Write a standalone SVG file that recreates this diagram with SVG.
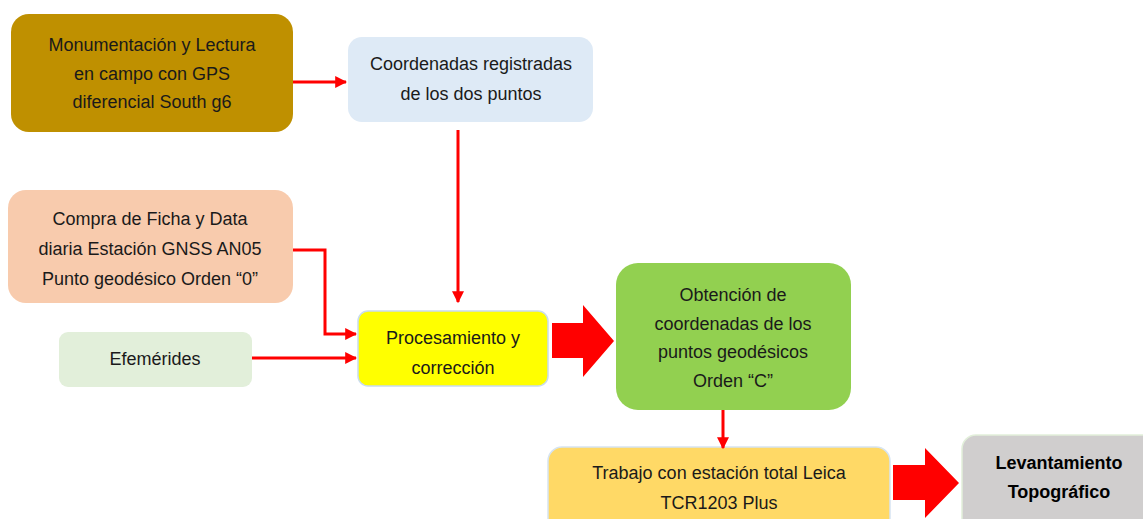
<svg xmlns="http://www.w3.org/2000/svg" width="1143" height="519" viewBox="0 0 1143 519">
<defs>
<style>
text{font-family:"Liberation Sans",Arial,sans-serif;font-size:18px;fill:#1a1a1a;text-anchor:middle;dominant-baseline:central}
.b{font-weight:bold;fill:#000}
.ln{fill:none;stroke:#ff0000;stroke-width:3}
.blk{fill:#ff0000}
</style>
<marker id="ah" viewBox="0 0 10 10" refX="9" refY="5" markerWidth="4" markerHeight="4" orient="auto" markerUnits="strokeWidth">
<path d="M0,0 L10,5 L0,10 z" fill="#ff0000"/>
</marker>
</defs>
<rect width="1143" height="519" fill="#ffffff"/>
<g id="n1">
<rect x="11" y="14" width="282" height="118" rx="18" fill="#bf9000"/>
<text x="152" y="45">Monumentación y Lectura</text>
<text x="152" y="74">en campo con GPS</text>
<text x="152" y="102">diferencial South g6</text>
</g>
<g id="n2">
<rect x="348" y="37" width="245" height="85" rx="14" fill="#deeaf6"/>
<text x="471" y="64">Coordenadas registradas</text>
<text x="471" y="94">de los dos puntos</text>
</g>
<g id="n3">
<rect x="8" y="190" width="285" height="113" rx="18" fill="#f8cbad"/>
<text x="150" y="219">Compra de Ficha y Data</text>
<text x="150" y="249">diaria Estación GNSS AN05</text>
<text x="150" y="279">Punto geodésico Orden “0”</text>
</g>
<g id="n4">
<rect x="59" y="332" width="193" height="55" rx="9" fill="#e2efda"/>
<text x="155" y="359">Efemérides</text>
</g>
<g id="n5">
<rect x="358" y="311" width="190" height="75" rx="10" fill="#ffff00" stroke="#c9dcef" stroke-width="1.5"/>
<text x="453" y="338">Procesamiento y</text>
<text x="453" y="368">corrección</text>
</g>
<g id="n6">
<rect x="616" y="263" width="235" height="147" rx="22" fill="#92d050"/>
<text x="733" y="295">Obtención de</text>
<text x="733" y="324">coordenadas de los</text>
<text x="733" y="352">puntos geodésicos</text>
<text x="733" y="381">Orden “C”</text>
</g>
<g id="n7">
<rect x="548" y="447" width="342" height="90" rx="14" fill="#ffd966" stroke="#d6e4f2" stroke-width="1.5"/>
<text x="719" y="473">Trabajo con estación total Leica</text>
<text x="719" y="503">TCR1203 Plus</text>
</g>
<g id="n8">
<rect x="962" y="435" width="200" height="100" rx="14" fill="#d0cece" stroke="#e2efda" stroke-width="1.5"/>
<text class="b" x="1059" y="463">Levantamiento</text>
<text class="b" x="1059" y="492">Topográfico</text>
</g>
<g id="connectors">
<path class="ln" d="M293,82 H346" marker-end="url(#ah)"/>
<path class="ln" d="M458,130 V302" marker-end="url(#ah)"/>
<path class="ln" d="M293,250 H325 V334 H356" marker-end="url(#ah)"/>
<path class="ln" d="M252,358 H356" marker-end="url(#ah)"/>
<path class="ln" d="M723,410 V448" marker-end="url(#ah)"/>
<path class="blk" d="M552,323 H583 V305 L614,341 L583,377 V358 H552 Z"/>
<path class="blk" d="M893,465 H925 V448 L959,483 L925,518 V500 H893 Z"/>
</g>
</svg>
